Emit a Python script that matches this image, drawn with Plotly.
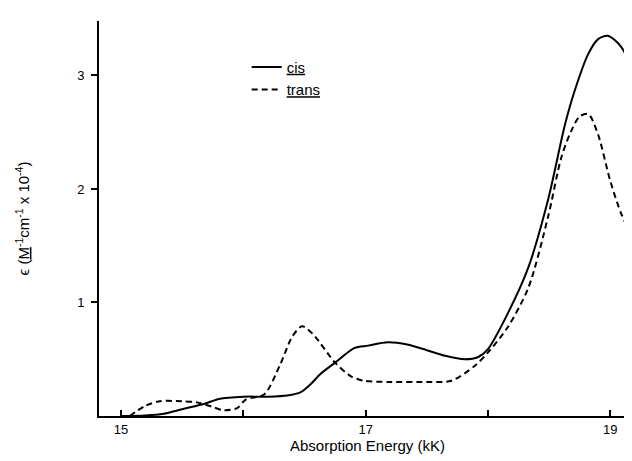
import plotly.graph_objects as go

cis_x = [15.0, 15.2, 15.35, 15.5, 15.69, 15.8, 16.0, 16.2, 16.36, 16.47, 16.55, 16.63, 16.75, 16.91, 17.02, 17.18, 17.34, 17.5, 17.65, 17.81, 17.92, 18.0, 18.16, 18.33, 18.49, 18.63, 18.71, 18.82, 18.9, 18.98, 19.09, 19.2]
cis_y = [0, 0.005, 0.02, 0.06, 0.11, 0.15, 0.17, 0.17, 0.18, 0.21, 0.28, 0.37, 0.47, 0.6, 0.62, 0.65, 0.63, 0.58, 0.53, 0.5, 0.52, 0.59, 0.9, 1.31, 1.9, 2.57, 2.87, 3.19, 3.32, 3.35, 3.25, 3.0]

trans_x = [15.07, 15.2, 15.32, 15.5, 15.62, 15.75, 15.84, 15.95, 16.02, 16.17, 16.3, 16.4, 16.48, 16.57, 16.75, 16.88, 16.99, 17.2, 17.5, 17.7, 17.89, 18.0, 18.16, 18.33, 18.49, 18.6, 18.68, 18.75, 18.82, 18.9, 19.0, 19.09, 19.2]
trans_y = [0, 0.09, 0.13, 0.13, 0.12, 0.08, 0.05, 0.07, 0.145, 0.19, 0.45, 0.7, 0.79, 0.72, 0.47, 0.35, 0.31, 0.3, 0.3, 0.31, 0.44, 0.56, 0.78, 1.13, 1.75, 2.28, 2.51, 2.64, 2.66, 2.48, 2.07, 1.78, 1.53]

x_ticks = [15, 17, 19]
x_labels = ["15", "17", "19"]
y_ticks = [1, 2, 3]
y_labels = ["1", "2", "3"]

fig = go.Figure()
fig.add_trace(go.Scatter(x=cis_x, y=cis_y, mode="lines", name="<u>cis</u>",
                         line=dict(color="black", width=2, shape="spline", smoothing=0.8)))
fig.add_trace(go.Scatter(x=trans_x, y=trans_y, mode="lines", name="<u>trans</u>",
                         line=dict(color="black", width=2, dash="6px,4px", shape="spline", smoothing=0.8)))

fig.update_layout(
    width=632, height=461,
    margin=dict(l=91, r=4, t=13, b=53),
    plot_bgcolor="white", paper_bgcolor="white",
    font=dict(family="Liberation Sans, Arial, sans-serif", color="black", size=13),
    legend=dict(x=0.275, y=0.925, xanchor="left", yanchor="top", bgcolor="rgba(0,0,0,0)",
                font=dict(size=15), itemwidth=30, tracegroupgap=0),
    xaxis=dict(range=[14.82, 19.21], tickvals=x_ticks, ticktext=x_labels,
               ticks="inside", ticklen=6, tickwidth=1.5, tickcolor="black",
               minor=dict(dtick=1, tick0=15, ticks="inside", ticklen=6, tickwidth=1.5, tickcolor="black", showgrid=False),
               showline=True, linecolor="black", linewidth=2, showgrid=False, zeroline=False,
               title=dict(text="Absorption Energy (kK)", font=dict(size=15), standoff=2)),
    yaxis=dict(range=[0, 3.48], tickvals=y_ticks, ticktext=y_labels,
               ticks="outside", ticklen=6, tickwidth=1.5, tickcolor="black", ticklabelstandoff=4,
               showline=True, linecolor="black", linewidth=2, showgrid=False, zeroline=False,
               title=dict(text="ϵ (<u>M</u><sup>-1</sup>cm<sup>-1</sup> x 10<sup>-4</sup>)",
                          font=dict(size=15), standoff=44)),
)

fig.write_html("out.html")
